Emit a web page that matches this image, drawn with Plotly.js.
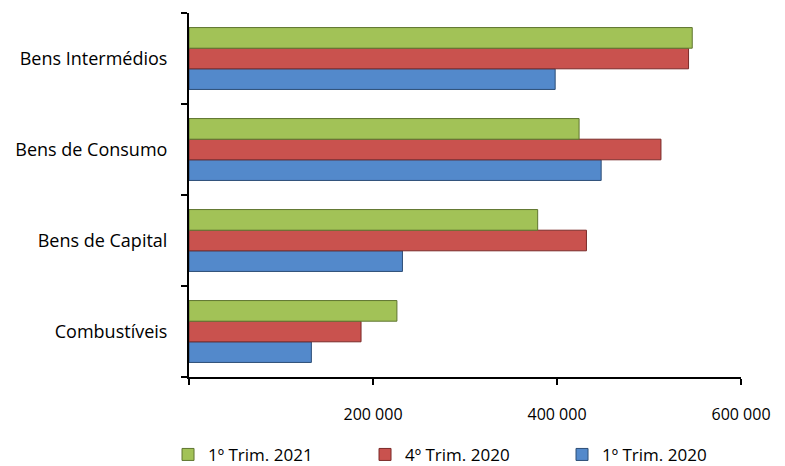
<!DOCTYPE html>
<html>
<head>
<meta charset="utf-8">
<script src="https://cdn.plot.ly/plotly-3.0.1.min.js"></script>
<style>html,body{margin:0;padding:0;background:#fff;}#chart{width:785px;height:466px;}</style>
</head>
<body>
<div id="chart"></div>
<script>
var categories = ["Combustíveis", "Bens de Capital", "Bens de Consumo", "Bens Intermédios"];
var seriesNames = ["1º Trim. 2020", "4º Trim. 2020", "1º Trim. 2021"];
var trim1_2020 = [133000, 232000, 448000, 398000];
var trim4_2020 = [187000, 432000, 513000, 543000];
var trim1_2021 = [226000, 379000, 424000, 547000];
var tickValues = [0, 200000, 400000, 600000];
var tickLabels = ["", "200 000", "400 000", "600 000"];

var colors = ["#5389CB", "#C9524E", "#A2C257"];
var edges = ["#2c4d75", "#7a2a28", "#5f7530"];
var values = [trim1_2020, trim4_2020, trim1_2021];

var traces = values.map(function (v, i) {
  return {
    type: "bar",
    orientation: "h",
    name: seriesNames[i],
    y: categories,
    x: v,
    marker: { color: colors[i], line: { color: edges[i], width: 1 } },
    hoverinfo: "x+y+name"
  };
});

var font = "'Open Sans', Lato, 'Liberation Sans', sans-serif";
var layout = {
  width: 785,
  height: 466,
  margin: { l: 189, r: 44, t: 13, b: 89, autoexpand: false },
  paper_bgcolor: "#ffffff",
  plot_bgcolor: "#ffffff",
  showlegend: true,
  barmode: "group",
  bargap: 0.32,
  bargroupgap: 0,
  font: { family: font, size: 16, color: "#000" },
  xaxis: {
    range: [0, 600000],
    tickvals: tickValues,
    ticktext: tickLabels,
    showgrid: false,
    zeroline: false,
    showline: true,
    linecolor: "#000",
    linewidth: 2,
    ticks: "outside",
    ticklen: 6,
    tickwidth: 1.5,
    tickcolor: "#000",
    ticklabelstandoff: 16,
    tickfont: { family: font, size: 16, color: "#000" },
    automargin: false,
    fixedrange: true
  },
  yaxis: {
    type: "category",
    categoryorder: "array",
    categoryarray: categories,
    showgrid: false,
    zeroline: false,
    showline: true,
    linecolor: "#000",
    linewidth: 2,
    ticks: "outside",
    tickson: "boundaries",
    ticklen: 6,
    tickwidth: 1.5,
    tickcolor: "#000",
    ticklabelstandoff: 16,
    tickfont: { family: font, size: 18, color: "#000" },
    automargin: false,
    fixedrange: true
  },
  legend: {
    orientation: "h",
    traceorder: "reversed",
    x: -0.038,
    xanchor: "left",
    y: -0.214,
    yanchor: "middle",
    entrywidth: 152,
    entrywidthmode: "pixels",
    font: { family: font, size: 17, color: "#000" },
    itemwidth: 30
  }
};

Plotly.newPlot("chart", traces, layout, { displayModeBar: false, staticPlot: true });
</script>
</body>
</html>
